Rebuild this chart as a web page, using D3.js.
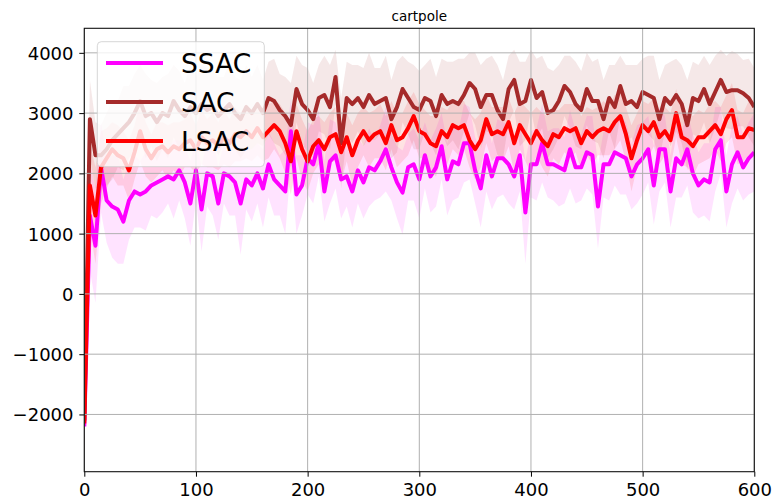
<!DOCTYPE html>
<html><head><meta charset="utf-8">
<script src="https://cdn.jsdelivr.net/npm/d3@7"></script>
<style>body{margin:0;background:#fff} text{font-family:"DejaVu Sans",sans-serif;fill:#000}</style>
</head><body><svg id="c" width="775" height="504"></svg>
<script>
const title = "cartpole";
const seriesNames = ["SSAC", "SAC", "LSAC"];
const seriesColors = ["#ff00ff", "#a52a2a", "#ff0000"];
const episodeStep = 5;
const xTicks = [0, 100, 200, 300, 400, 500, 600];
const yTicks = [-2000, -1000, 0, 1000, 2000, 3000, 4000];

const ssacMean = [
 -2200, 1300, 800, 2100, 1550, 1450, 1400, 1200, 1550, 1700,
 1650, 1700, 1800, 1850, 1900, 1950, 1900, 2050, 1850, 1500,
 2050, 1400, 2000, 1950, 1500, 2000, 1950, 1850, 1500, 1900,
 1800, 2000, 1750, 2150, 1900, 1800, 1700, 2700, 1650, 1800,
 2250, 2150, 2500, 1700, 2200, 2300, 1900, 1950, 1700, 2050,
 1850, 2100, 2050, 2200, 2400, 2100, 1850, 1680, 2100, 2150,
 1900, 2300, 1950, 2100, 2450, 1900, 2200, 2150, 2500, 2500,
 2050, 1750, 2300, 1950, 2250, 2250, 2150, 1950, 2300, 1350,
 2150, 2150, 2500, 2150, 2150, 2100, 2050, 2400, 2100, 2100,
 2350, 2300, 1450, 2150, 2150, 2350, 2300, 2250, 1950, 2150,
 2250, 2400, 1800, 2400, 2400, 1700, 2250, 2150, 2400, 2000,
 1800, 1900, 1850, 2400, 2550, 1700, 2150, 2350, 2100, 2250,
 2350];
const ssacStd = [
 400, 900, 950, 750, 700, 850, 900, 700, 650, 600,
 550, 650, 500, 600, 550, 450, 650, 500, 600, 700,
 500, 700, 550, 650, 600, 500, 650, 550, 850, 500,
 600, 500, 650, 550, 600, 500, 700, 550, 650, 500,
 600, 650, 550, 500, 700, 550, 650, 500, 600, 550,
 600, 650, 500, 600, 700, 550, 600, 700, 550, 600,
 650, 550, 600, 650, 550, 600, 650, 550, 650, 600,
 550, 650, 600, 550, 650, 600, 650, 550, 600, 850,
 550, 600, 650, 550, 600, 650, 550, 650, 600, 550,
 600, 650, 700, 550, 600, 550, 650, 600, 550, 650,
 600, 550, 650, 700, 550, 600, 650, 550, 600, 650,
 550, 600, 650, 700, 550, 600, 650, 600, 550, 600,
 650];
const sacMean = [
 -2100, 2900, 2300, 2300, 2400, 2550, 2650, 2750, 2850, 3000,
 3200, 2950, 3000, 2850, 3000, 2950, 3200, 3050, 2950, 3100,
 3000, 3150, 3050, 3100, 2950, 3050, 3150, 3000, 2900, 3100,
 3000, 3150, 3000, 3250, 3200, 3050, 2950, 2800, 3400, 3150,
 3050, 2900, 3250, 3300, 3100, 3600, 2500, 3250, 3150, 3250,
 3100, 3300, 3150, 3200, 3250, 2900, 3100, 3400, 3250, 3100,
 3050, 3250, 3200, 2950, 3300, 3150, 3200, 3150, 3300, 3500,
 3400, 3100, 3300, 3300, 3050, 2900, 3400, 3550, 3150, 3200,
 3550, 3250, 3350, 3000, 3050, 3200, 3450, 3350, 3150, 3050,
 3400, 3200, 3200, 2900, 3250, 3100, 3450, 3150, 3200, 3100,
 3350, 3300, 3250, 2900, 3250, 3150, 3300, 3150, 2800, 3250,
 3200, 3400, 3150, 3350, 3550, 3350, 3380, 3380, 3330, 3250,
 3100];
const sacStd = [
 400, 650, 550, 500, 600, 650, 550, 700, 600, 650,
 600, 700, 550, 650, 600, 700, 600, 650, 550, 700,
 600, 650, 700, 600, 650, 550, 700, 600, 650, 700,
 600, 650, 550, 600, 700, 600, 650, 700, 550, 650,
 700, 600, 550, 650, 700, 450, 750, 600, 650, 550,
 650, 700, 600, 550, 700, 650, 750, 550, 600, 700,
 650, 550, 700, 650, 600, 700, 650, 750, 600, 500,
 600, 700, 600, 650, 750, 650, 550, 500, 700, 650,
 500, 650, 600, 750, 650, 600, 500, 600, 700, 650,
 600, 650, 700, 650, 550, 700, 500, 650, 600, 700,
 550, 650, 700, 650, 550, 700, 600, 650, 750, 600,
 600, 550, 650, 600, 500, 600, 650, 600, 550, 650,
 650];
const lsacMean = [
 -2150, 1800, 1300, 2100, 2250, 2400, 2300, 2250, 2050, 2350,
 2700, 2400, 2250, 2400, 2450, 2350, 2450, 2400, 2500, 2550,
 2400, 2600, 2500, 2550, 2450, 2600, 2500, 2650, 2600, 2700,
 2600, 2750, 2600, 2700, 2800, 2700, 2500, 2200, 2700, 2400,
 2200, 2450, 2550, 2400, 2600, 2650, 2350, 2600, 2300, 2550,
 2700, 2550, 2650, 2700, 2500, 2800, 2550, 2600, 2750, 2950,
 2700, 2650, 2500, 2450, 2700, 2600, 2800, 2750, 2800, 2550,
 2400, 2550, 2900, 2650, 2700, 2650, 2850, 2500, 2800, 2650,
 2500, 2700, 2550, 2450, 2650, 2600, 2750, 2700, 2750, 2500,
 2700, 2600, 2700, 2750, 2700, 2850, 2950, 2650, 2250, 2550,
 2800, 2700, 2850, 2600, 2700, 2550, 3000, 2600, 2550, 2450,
 2600, 2600, 2700, 2800, 2650, 2900, 3050, 2600, 2600, 2750,
 2720];
const lsacStd = [
 400, 700, 800, 600, 500, 450, 500, 450, 500, 450,
 500, 450, 400, 450, 400, 450, 400, 450, 400, 450,
 400, 450, 400, 450, 400, 450, 400, 450, 400, 450,
 400, 450, 400, 450, 400, 450, 500, 550, 450, 500,
 500, 450, 400, 450, 400, 450, 500, 400, 500, 450,
 400, 450, 400, 450, 450, 400, 450, 400, 450, 400,
 450, 400, 450, 500, 400, 450, 400, 450, 400, 450,
 500, 450, 400, 450, 400, 450, 400, 500, 400, 450,
 500, 400, 450, 500, 400, 450, 400, 450, 400, 450,
 400, 450, 400, 450, 400, 450, 400, 450, 550, 450,
 400, 450, 400, 450, 400, 450, 400, 450, 450, 500,
 450, 400, 450, 400, 450, 400, 450, 450, 400, 450,
 450];

const means = [ssacMean, sacMean, lsacMean];
const stds = [ssacStd, sacStd, lsacStd];

const W = 775, H = 504;
const L = 84.3, R = 754.3, T = 28.3, B = 471.7;
const svg = d3.select("#c");
svg.append("rect").attr("width", W).attr("height", H).attr("fill", "#fff");

const x = d3.scaleLinear().domain([0, 600]).range([L, R]);
const y = d3.scaleLinear().domain([-2950, 4407]).range([B, T]);

svg.append("defs").append("clipPath").attr("id", "clip")
  .append("rect").attr("x", L).attr("y", T).attr("width", R - L).attr("height", B - T);

const plot = svg.append("g").attr("clip-path", "url(#clip)");

const data = means.map((m, k) => m.map((v, i) => ({ ep: i * episodeStep, v, s: stds[k][i] })));

const area = d3.area().x(d => x(d.ep)).y0(d => y(d.v - d.s)).y1(d => y(d.v + d.s));
const line = d3.line().x(d => x(d.ep)).y(d => y(d.v));

// bands
data.forEach((d, k) => {
  plot.append("path").datum(d).attr("d", area)
    .attr("fill", seriesColors[k]).attr("fill-opacity", 0.11).attr("stroke", "none");
});

// grid
const grid = svg.append("g");
xTicks.forEach(t => grid.append("line").attr("x1", x(t)).attr("x2", x(t)).attr("y1", T).attr("y2", B)
  .attr("stroke", "#b0b0b0").attr("stroke-width", 1));
yTicks.forEach(t => grid.append("line").attr("x1", L).attr("x2", R).attr("y1", y(t)).attr("y2", y(t))
  .attr("stroke", "#b0b0b0").attr("stroke-width", 1));

// lines
data.forEach((d, k) => {
  plot.append("path").datum(d).attr("d", line)
    .attr("fill", "none").attr("stroke", seriesColors[k]).attr("stroke-width", 4)
    .attr("stroke-linejoin", "round").attr("stroke-linecap", "butt");
});

// axes
const fmt = d => d < 0 ? "\u2212" + Math.abs(d) : String(d);
const xAxis = svg.append("g").attr("transform", `translate(0,${B})`)
  .call(d3.axisBottom(x).tickValues(xTicks).tickSize(5).tickFormat(fmt));
xAxis.select(".domain").remove();
xAxis.selectAll(".tick line").attr("stroke", "#000").attr("stroke-width", 1);
xAxis.selectAll(".tick text").attr("y", 24.3).attr("dy", 0)
  .style("font-size", "18px").style("font-family", '"DejaVu Sans", sans-serif').attr("fill", "#000");

const yAxis = svg.append("g").attr("transform", `translate(${L},0)`)
  .call(d3.axisLeft(y).tickValues(yTicks).tickSize(5).tickFormat(fmt));
yAxis.select(".domain").remove();
yAxis.selectAll(".tick line").attr("stroke", "#000").attr("stroke-width", 1);
yAxis.selectAll(".tick text").attr("x", -10.8).attr("dy", "0.36em")
  .style("font-size", "18px").style("font-family", '"DejaVu Sans", sans-serif').attr("fill", "#000");

// spines
svg.append("rect").attr("x", L).attr("y", T).attr("width", R - L).attr("height", B - T)
  .attr("fill", "none").attr("stroke", "#111").attr("stroke-width", 1.1);

// title
svg.append("text").attr("x", (L + R) / 2).attr("y", 20.5).attr("text-anchor", "middle")
  .style("font-size", "13.5px").text(title);

// legend
const lg = svg.append("g");
lg.append("rect").attr("x", 97.3).attr("y", 41.7).attr("width", 167).attr("height", 125)
  .attr("rx", 4).attr("fill", "#fff").attr("fill-opacity", 0.8)
  .attr("stroke", "#cccccc").attr("stroke-opacity", 0.8).attr("stroke-width", 1);
seriesNames.forEach((n, k) => {
  const cy = 63 + k * 39;
  lg.append("line").attr("x1", 106).attr("x2", 163).attr("y1", cy).attr("y2", cy)
    .attr("stroke", seriesColors[k]).attr("stroke-width", 4);
  lg.append("text").attr("x", 181).attr("y", cy + 10).style("font-size", "26.5px").text(n);
});
</script></body></html>
